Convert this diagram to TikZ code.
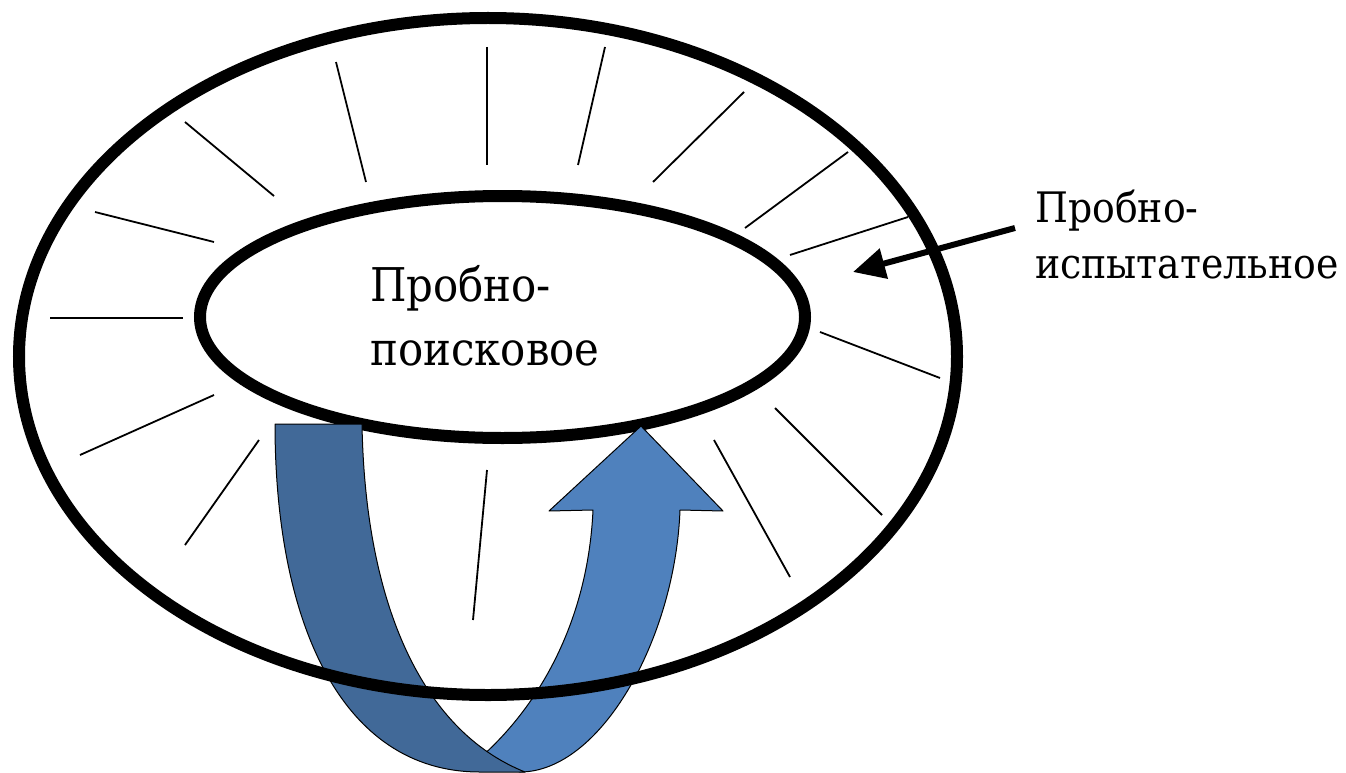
\documentclass[tikz,border=0pt]{standalone}
\usepackage{fontspec}
\setmainfont{DejaVu Serif}[FakeStretch=0.9]
\usetikzlibrary{arrows.meta}
\definecolor{darkblue}{RGB}{65,105,152}
\definecolor{lightblue}{RGB}{79,129,189}
\tikzset{
  ray/.style={line width=1.8pt, black},
  ring/.style={line width=12pt, black},
  band/.style={draw=black, line width=1pt, line join=round},
  lbl/.style={align=left, inner sep=0pt, anchor=base west}
}
\begin{document}
\begin{tikzpicture}[x=1pt,y=-1pt]
\useasboundingbox (0,0) rectangle (1346,773);
% radial lines
\draw[ray] (336,62) -- (366,182);
\draw[ray] (487,47) -- (487,165);
\draw[ray] (605,47) -- (578,165);
\draw[ray] (744,92) -- (653,182);
\draw[ray] (848,152) -- (745,228);
\draw[ray] (908,217) -- (790,255);
\draw[ray] (820,332) -- (940,378);
\draw[ray] (775,408) -- (882,515);
\draw[ray] (714,440) -- (790,577);
\draw[ray] (487,470) -- (473,620);
\draw[ray] (259,440) -- (185,545);
\draw[ray] (214,395) -- (80,455);
\draw[ray] (50,318) -- (183,318);
\draw[ray] (95,212) -- (214,242);
\draw[ray] (185,122) -- (274,196);
% inner ellipse
\draw[ring] (502.5,317) ellipse [x radius=302.5, y radius=121];
% U-turn arrow
\fill[lightblue, band] (480,758) .. controls (540,705) and (588,620) .. (593,510)
  -- (549,511) -- (641,426) -- (723,511) -- (680,510)
  .. controls (675,640) and (600,772) .. (520,772) -- cycle;
\fill[darkblue, band] (275,424) -- (362,424)
  .. controls (365,600) and (420,730) .. (525,772) -- (480,772)
  .. controls (340,772) and (275,620) .. (275,424) -- cycle;
% outer ellipse
\draw[ring] (488,356.5) ellipse [x radius=469, y radius=338.5];
% texts
\node[lbl, font=\fontsize{46.5}{64}\selectfont] (inner) at (370,365) {Пробно-\\поисковое};
\node[lbl, font=\fontsize{42}{56}\selectfont] (outer) at (1035,278) {Пробно-\\испытательное};
\coordinate (astart) at (1015,228);
\coordinate (aend) at (853,272);
\draw[line width=6pt, -{Triangle[length=32pt,width=30pt]}] (astart) -- (aend);
\end{tikzpicture}
\end{document}
